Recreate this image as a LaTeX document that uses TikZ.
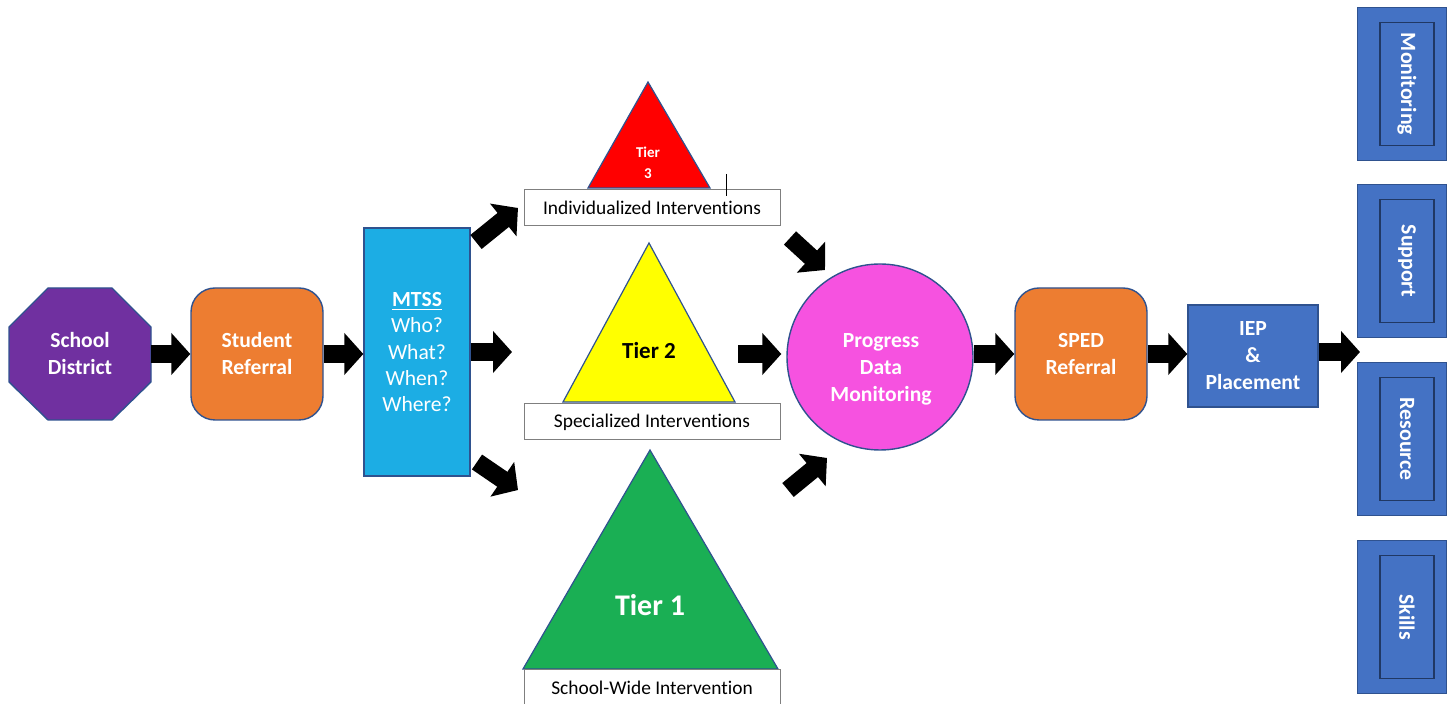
\documentclass[tikz,border=0pt]{standalone}
\usepackage{fontspec}
\setmainfont[Ligatures=NoCommon]{Carlito}
\usetikzlibrary{shapes.geometric,arrows.meta}
\definecolor{purp}{HTML}{7030A0}
\definecolor{orng}{HTML}{ED7D31}
\definecolor{edgeb}{HTML}{2F528F}
\definecolor{navy}{HTML}{203864}
\definecolor{sky}{HTML}{1CADE4}
\definecolor{blu}{HTML}{4472C4}
\definecolor{magn}{HTML}{F652E0}
\definecolor{grn}{HTML}{1AAF54}
\definecolor{yel}{HTML}{FFFF00}
\definecolor{rd}{HTML}{FF0000}
\definecolor{gbox}{HTML}{7F7F7F}
\tikzset{
  shp/.style={draw=edgeb, line width=0.7pt, text=white, align=center, inner sep=0pt,
    font=\bfseries\fontsize{10.8}{13.5}\selectfont},
  rbox/.style={shp, rectangle, rounded corners=12pt, minimum width=66pt, minimum height=66pt, fill=orng},
  mtssbox/.style={shp, rectangle, minimum width=53pt, minimum height=124pt, fill=sky,
    font=\fontsize{10.8}{13.2}\selectfont},
  iepbox/.style={shp, rectangle, minimum width=65pt, minimum height=51pt, fill=blu},
  outerb/.style={draw=edgeb, line width=0.6pt, fill=blu, minimum width=44.5pt, minimum height=76.5pt, inner sep=0pt},
  innerb/.style={shp, draw=navy, fill=blu, minimum width=61.5pt, minimum height=27pt, rotate=-90,
    font=\bfseries\fontsize{10.9}{12}\selectfont},
  lblbox/.style={draw=gbox, line width=0.5pt, fill=white, minimum width=128pt, minimum height=18pt,
    inner sep=0pt, font=\fontsize{9.7}{11}\selectfont},
  tri/.style={draw=edgeb, line width=0.6pt},
  wtext/.style={text=white, align=center, inner sep=0pt, font=\bfseries\fontsize{10.8}{13.5}\selectfont},
  barrow/.style={draw=black, line width=9pt, -{Triangle[length=9.5pt,width=20.5pt]}},
}
\begin{document}
\begin{tikzpicture}[x=0.5pt,y=-0.5pt]
\useasboundingbox (0,0) rectangle (1453,704);
% triangles
\draw[tri, fill=rd] (648,82) -- (710,188) -- (588,188) -- cycle;
\draw[tri, fill=yel] (649,243) -- (735,402) -- (563,402) -- cycle;
\draw[tri, fill=grn] (650,450) -- (778,669) -- (523,669) -- cycle;
\node[text=white, align=center, font=\bfseries\fontsize{7.5}{10.5}\selectfont] (t3) at (648,163) {Tier\\3};
\node[text=black, font=\bfseries\fontsize{11.5}{13}\selectfont] (t2) at (649,351) {Tier 2};
\node[text=white, font=\bfseries\fontsize{15}{17}\selectfont] (t1) at (650,605) {Tier 1};
% label boxes
\node[lblbox] (l3) at (652,208) {Individualized Interventions};
\node[lblbox] (l2) at (652,422) {Specialized Interventions};
\node[lblbox] (l1) at (652,688) {School-Wide Intervention};
\coordinate (tk1) at (726,174);
\coordinate (tk2) at (726,196);
\draw[line width=0.5pt] (tk1) -- (tk2);
% school district octagon
\draw[draw=edgeb, line width=0.7pt, fill=purp]
  (48,288) -- (112,288) -- (151,327) -- (151,382) -- (112,420) -- (48,420) -- (9,382) -- (9,327) -- cycle;
\node[wtext, minimum width=71pt, minimum height=66pt] (sd) at (80,354) {School\\District};
% main nodes
\node[rbox] (sr) at (257,354) {Student\\Referral};
\node[mtssbox] (mt) at (417,352) {\textbf{\underline{MTSS}}\\Who?\\What?\\When?\\Where?};
\node[shp, circle, minimum size=93pt, fill=magn] (pdm) at (880,357) {};
\node[wtext] (pdmt) at (881,369) {Progress\\Data\\Monitoring};
\node[rbox] (sp) at (1081,354) {SPED\\Referral};
\node[iepbox] (iep) at (1253,356) {IEP\\\&\\Placement};
% right side boxes
\foreach \nm/\yy/\tx in {m/84/Monitoring, s/261/Support, r/439/Resource, k/617/Skills}{
  \node[outerb] (\nm o) at (1402,\yy) {};
  \node[innerb] (\nm i) at (1407,\yy) {\tx};
}
% free arrow ends
\coordinate (a1) at (512,352);
\coordinate (u0) at (476,242);
\coordinate (u1) at (518,208);
\coordinate (d0) at (477,462);
\coordinate (d1) at (518,490);
\coordinate (r0) at (738,354);
\coordinate (q0) at (790,238);
\coordinate (q1) at (825,270);
\coordinate (w0) at (788,490);
\coordinate (w1) at (827,458);
\coordinate (e1) at (1360,352);
% arrows
\draw[barrow] (sd.east) -- (sr.west);
\draw[barrow] (sr.east) -- (mt.west |- sr.east);
\draw[barrow] (mt.east) -- (a1);
\draw[barrow] (u0) -- (u1);
\draw[barrow] (d0) -- (d1);
\draw[barrow, shorten >=2.5pt] (r0) -- (pdm.west |- r0);
\draw[barrow] (q0) -- (q1);
\draw[barrow] (w0) -- (w1);
\draw[barrow] (pdm.east |- sp.west) -- (sp.west);
\draw[barrow] (sp.east) -- (sp.east -| iep.west);
\draw[barrow] (iep.east |- e1) -- (e1);
\end{tikzpicture}
\end{document}
